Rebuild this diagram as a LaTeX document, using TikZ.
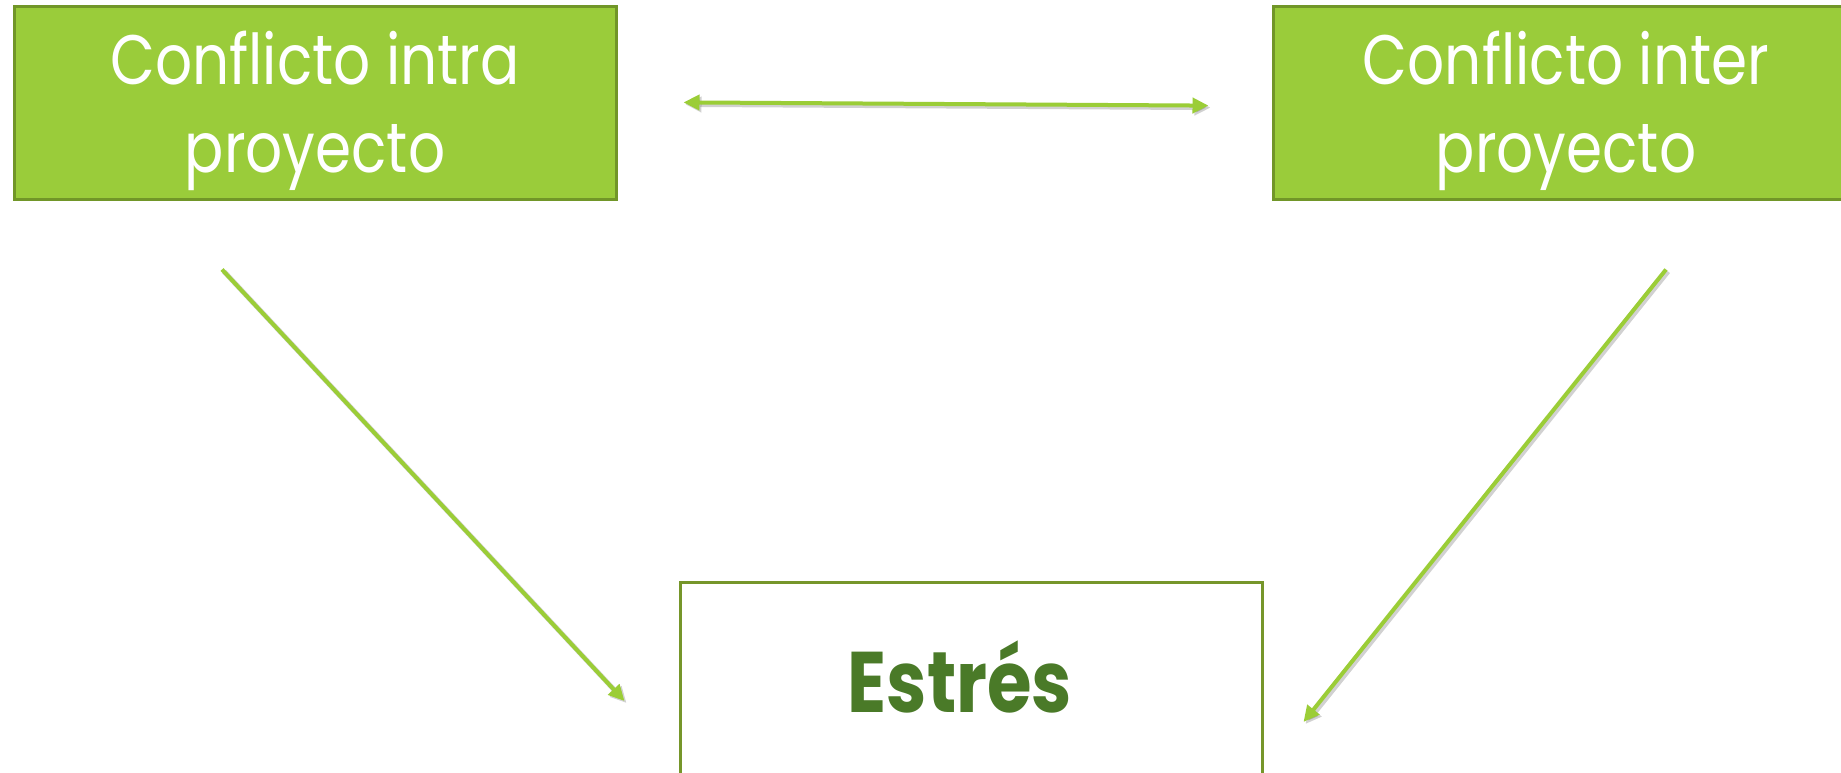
\documentclass[tikz,border=0pt]{standalone}
\usepackage{fontspec}
\setmainfont{Poppins}
\newfontfamily\boxfont[FakeStretch=0.83]{Poppins}
\newfontfamily\estfont[FakeStretch=0.84]{Poppins}
\usetikzlibrary{arrows.meta}
\definecolor{boxgreen}{RGB}{154,204,58}
\definecolor{boxedge}{RGB}{113,150,40}
\definecolor{estedge}{RGB}{118,150,42}
\definecolor{esttext}{RGB}{74,122,40}
\definecolor{arrowgreen}{RGB}{155,205,55}
\newcommand{\topstrut}{\rule{0pt}{70pt}}
\begin{document}
\begin{tikzpicture}[x=1pt,y=-1pt,
  >={Triangle[length=16pt,width=15pt]},
  box/.style={draw=boxedge, line width=3pt, fill=boxgreen, text=white, align=center,
    font=\boxfont\fontsize{70}{88}\selectfont, inner sep=0pt},
  conn/.style={draw=arrowgreen, line width=4pt,
    preaction={draw=black, opacity=0.18, line width=5pt, transform canvas={shift={(2pt,-2pt)}}}}
]
\fill[white] (0,0) rectangle (1841,773);
\useasboundingbox (0,0) rectangle (1841,773);
\node[box, minimum width=602pt, minimum height=192pt] (intra) at (315,103) {\topstrut Conflicto intra\\proyecto};
\node[box, minimum width=586pt, minimum height=192pt] (inter) at (1566,103) {\topstrut Conflicto inter\\proyecto};
\node[draw=estedge, line width=3pt, minimum width=582pt, minimum height=200pt, inner sep=0pt,
  text=esttext, font=\estfont\bfseries\fontsize{86}{100}\selectfont,
  text height=61pt, text depth=0pt] (estres) at (971,682) {Estrés\kern22pt};
\coordinate (s1) at ([shift={(-93,69)}]intra.south);
\coordinate (e1) at ([shift={(-54,19)}]estres.west);
\coordinate (s2) at ([shift={(100,69)}]inter.south);
\coordinate (e2) at ([shift={(40,40)}]estres.east);
\draw[conn,<->,shorten <=66pt,shorten >=63pt] ([yshift=1pt]intra.east) -- ([yshift=-3pt]inter.west);
\draw[conn,->] (s1) -- (e1);
\draw[conn,->] (s2) -- (e2);
\end{tikzpicture}
\end{document}
